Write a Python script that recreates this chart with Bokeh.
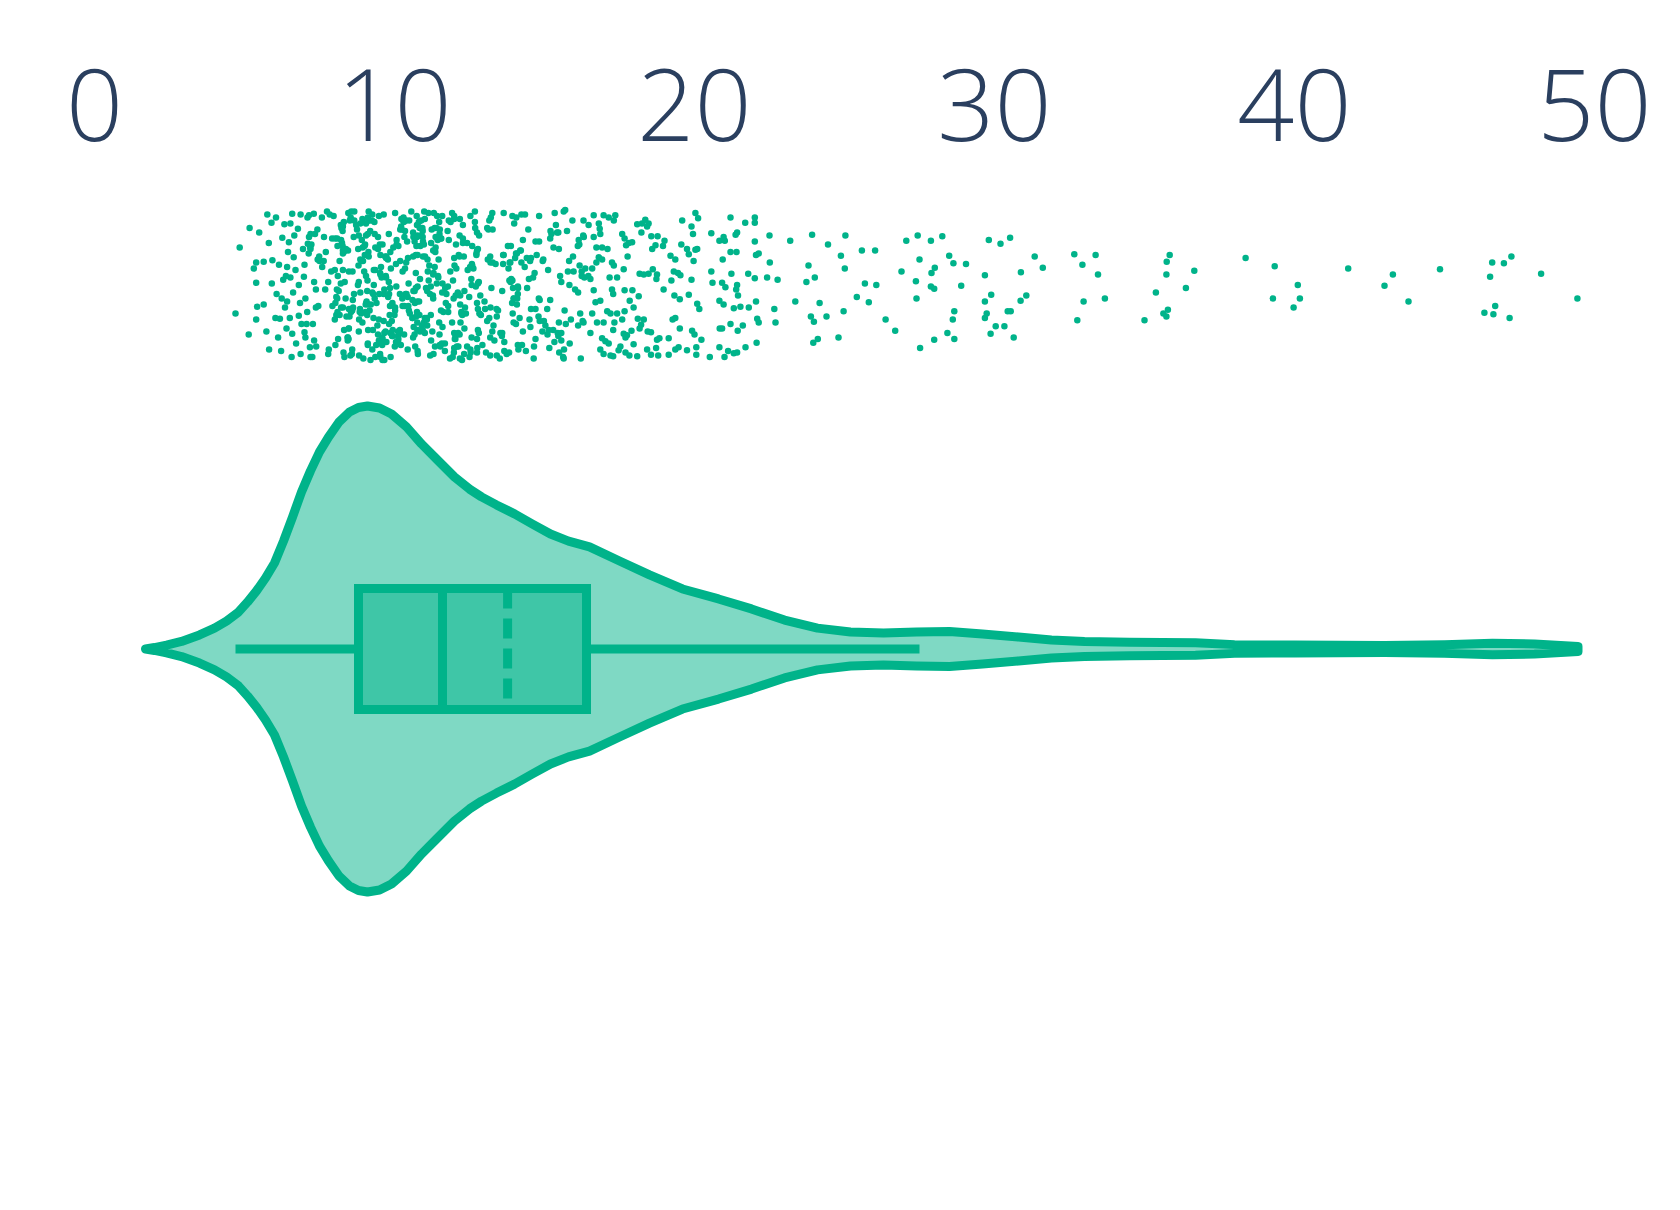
import numpy as np
from bokeh.plotting import figure
from bokeh.models import Range1d, FixedTicker, ColumnDataSource
from bokeh.embed import file_html
from bokeh.resources import INLINE

# ---------------- data ----------------
tick_values = [0, 10, 20, 30, 40, 50]
tick_labels = ["0", "10", "20", "30", "40", "50"]

# violin outline: value and relative density (peak = 1)
violin_value = [1.7, 2.0, 2.4, 2.9, 3.5, 4.0, 4.4, 4.8, 5.1, 5.4, 5.7, 6.0, 6.3, 6.6, 6.9,
                7.2, 7.5, 7.8, 8.15, 8.5, 8.8, 9.1, 9.5, 9.9, 10.4, 10.9, 11.4, 12.0,
                12.5, 12.9, 13.4, 14.0, 14.6, 15.2, 15.8, 16.5, 17.5, 18.5, 19.6, 20.8,
                21.9, 23.0, 24.1, 25.2, 26.3, 27.4, 28.5, 29.6, 30.8, 31.9,
                33.0, 34.5, 36.7, 38.0, 40.0, 43.0, 45.0, 46.6, 48.0, 49.45]
violin_density = [0, .006, .016, .031, .058, .086, .115, .152, .193, .239, .292, .354, .444, .543, .646,
                  .733, .811, .872, .934, .975, .994, 1.0, .992, .967, .914, .844, .782, .708,
                  .658, .626, .593, .556, .514, .473, .444, .420, .362, .305, .247, .206,
                  .165, .119, .086, .070, .066, .070, .072, .062, .049, .037,
                  .031, .028, .026, .018, .016, .014, .018, .024, .021, .010]

# box statistics
box_lower_fence = 4.7
box_q1 = 8.8
box_median = 11.6
box_mean = 13.77
box_q3 = 16.4
box_upper_fence = 27.5

# all points: value and jitter (percent of the strip half-height, + = up)
left_x = [4.84, 4.70, 5.17, 5.49, 5.81, 5.39, 5.64, 5.31, 5.39, 5.93, 5.42, 5.64, 5.39, 5.14, 5.73,
          5.82, 5.91, 5.76, 5.90, 6.07, 6.15, 6.26, 6.33, 6.48, 6.59, 6.53, 6.78, 6.87, 6.29, 6.53,
          6.42, 6.40, 6.51, 6.18, 6.03, 6.59, 6.81, 6.87, 7.00, 6.64, 6.98, 6.81, 7.03, 7.09, 7.00,
          7.03, 7.18, 7.20, 7.15, 7.31, 7.11, 7.20, 6.42, 6.12, 6.22, 6.35, 6.45, 6.62, 6.70, 6.72,
          6.90, 6.95, 6.66, 6.24, 6.05, 6.38, 6.85, 6.57]
left_j = [50, -38, 76, 70, 56, 30, 31, 22, 3, 33, -29, -26, -46, -66, -62,
          -86, 2, 94, 83, -12, 27, 63, 81, 57, 95, 82, 75, 94, 7, 10,
          -22, -58, -44, -45, -44, -65, -41, -92, 27, 37, 11, 0, -18, -36, -63,
          -70, -83, -96, 93, 95, 55, 68, 24, -70, -88, -30, 44, -10, 20, -78,
          -52, 48, 66, -18, 90, 12, -24, -96]

core_x = [
    7.14, 7.15, 7.92, 7.65, 7.35, 7.89, 7.79, 7.32, 7.38, 7.46, 7.26, 7.43, 7.38, 7.32, 7.79, 7.50, 7.28, 7.84,
    7.19, 7.71, 7.69, 7.39, 7.93, 7.75, 7.10, 7.58, 7.20, 7.97, 7.49, 7.44, 7.59, 7.23, 7.07, 7.81, 7.64,
    8.06, 8.28, 8.62, 8.08, 8.99, 8.86, 8.28, 8.03, 8.48, 8.25, 8.34, 8.21, 8.17, 8.06, 8.79, 8.82, 8.14, 8.80,
    8.86, 8.51, 8.32, 8.82, 8.30, 8.66, 8.47, 8.09, 8.38, 8.44, 8.60, 8.95, 8.50, 8.58, 8.22, 8.31, 8.72, 8.53,
    8.59, 8.40, 8.81, 8.28, 8.48, 8.11, 8.17, 8.45, 8.02, 8.84, 8.10, 8.27, 8.01, 8.93, 8.85, 8.21, 8.10, 8.55,
    8.59, 8.64, 8.46, 8.22, 8.94, 8.89, 8.54, 8.93, 8.03, 8.81, 8.96, 8.44, 8.28, 8.81, 8.09, 8.75, 8.66, 8.59,
    8.33, 8.44, 8.61, 8.28, 8.47, 8.56, 8.48, 8.23, 8.37, 8.86, 8.78, 8.31, 8.65, 8.27, 8.12, 8.01, 8.90, 8.91,
    9.45, 9.64, 9.85, 9.66, 9.92, 9.34, 9.60, 9.34, 9.86, 9.10, 9.45, 9.43, 9.26, 9.64, 9.82, 9.13, 9.39, 9.36,
    9.07, 9.26, 9.02, 9.49, 9.14, 9.12, 9.73, 9.72, 9.45, 9.87, 9.00, 9.66, 9.06, 9.31, 9.55, 9.88, 9.17, 9.48,
    9.81, 9.52, 9.09, 9.20, 9.96, 9.28, 9.29, 9.25, 9.40, 9.91, 9.71, 9.53, 9.64, 9.36, 9.78, 9.92, 9.59, 9.03,
    9.60, 9.01, 9.13, 9.30, 9.53, 9.05, 9.48, 9.82, 9.04, 9.66, 9.52, 9.13, 9.84, 9.14, 9.69, 9.51, 9.94, 9.15,
    9.11, 9.60, 9.94, 9.33, 9.05, 9.72, 9.70, 9.36, 9.57, 9.59, 9.59, 9.19, 9.53, 9.09, 9.21, 9.86, 9.11, 9.73,
    9.81, 9.93, 9.26, 9.11, 9.79, 9.31, 9.05, 9.11, 9.85, 9.48,
    10.07, 10.44, 10.62, 10.37, 10.99, 10.62, 10.74, 10.95, 10.67, 10.35, 10.18, 10.85, 10.75, 10.27, 10.24,
    10.89, 10.12, 10.27, 10.93, 10.81, 10.83, 10.01, 10.19, 10.49, 10.12, 10.98, 10.33, 10.67, 10.33, 10.62,
    10.44, 10.06, 10.56, 10.64, 10.30, 10.86, 10.02, 10.13, 10.94, 10.94, 10.63, 10.95, 10.22, 10.47, 10.37,
    10.19, 10.07, 10.02, 10.17, 10.98, 10.60, 10.94, 10.37, 10.02, 10.77, 10.05, 10.39, 10.21, 10.71, 10.76,
    10.29, 10.31, 10.76, 10.75, 10.23, 10.84, 10.67, 10.48, 10.18, 10.46, 10.76, 10.69, 10.40, 10.51, 10.32,
    10.00, 10.05, 10.68, 10.12, 10.71, 10.45, 10.26, 10.35, 10.60, 10.82, 10.77, 10.85, 10.77, 10.13, 10.42,
    10.75, 10.77, 10.89, 10.60, 10.91, 10.73, 10.63, 10.71, 10.78, 10.72,
    11.14, 11.68, 11.44, 11.09, 11.01, 11.22, 11.49, 11.53, 11.43, 11.01, 11.46, 11.54, 11.95, 11.85, 11.37,
    11.10, 11.50, 11.79, 11.22, 11.79, 11.68, 11.92, 11.58, 11.92, 11.35, 11.42, 11.01, 11.99, 11.56, 11.11,
    11.21, 11.29, 11.02, 11.19, 11.60, 11.86, 11.40, 11.34, 11.41, 11.81, 11.59, 11.81, 11.36, 11.29, 11.77,
    11.47, 11.71, 11.30, 11.99, 11.60, 11.51, 11.87, 11.07, 11.21, 11.13, 11.49, 11.99, 11.99, 11.98, 11.37,
    11.29, 11.78, 11.04, 11.99, 11.51, 11.05, 11.97, 11.31, 11.73, 11.28, 11.16, 11.09, 11.63, 11.18, 11.59,
    11.50, 11.24, 11.45, 11.94, 11.55, 11.34, 11.69, 11.08, 11.30, 11.26,
    12.42, 12.52, 12.23, 12.08, 12.25, 12.33, 12.44, 12.68, 12.50, 12.35, 12.26, 12.19, 12.31, 12.18, 12.81,
    12.71, 12.01, 12.00, 12.03, 12.13, 12.78, 12.38, 12.75, 12.28, 12.86, 12.58, 12.75, 12.33, 12.20, 12.83,
    12.81, 12.42, 12.06, 12.17, 12.17, 12.76, 12.69, 12.14, 12.73, 12.03, 12.59, 12.82, 12.53, 12.49, 12.04,
    12.28, 12.75, 12.54, 12.68, 12.73, 12.11, 12.59, 12.56, 12.28, 12.63, 12.88, 12.23, 12.53, 12.78, 12.75,
    12.93, 12.75, 12.19, 12.57, 12.78, 12.18, 12.57, 12.78, 12.05, 12.32, 12.17, 12.12,
    13.26, 13.80, 13.66, 13.13, 13.00, 13.19, 13.27, 13.87, 13.66, 13.11, 13.19, 13.59, 13.09, 13.21, 13.64,
    13.20, 13.19, 13.89, 13.41, 13.59, 13.26, 13.53, 13.58, 13.97, 13.93, 13.23, 13.84, 13.62, 13.64, 13.33,
    13.83, 13.27, 13.95, 13.02, 13.88, 13.41, 13.97, 13.16, 13.93, 13.99, 13.37, 13.51, 13.05, 13.82, 13.09,
    13.74, 13.94, 13.45, 13.92, 13.30, 13.78, 13.16, 13.40, 13.62, 13.86, 13.20, 13.89, 13.98,
    14.62, 14.80, 14.34, 14.82, 14.53, 14.42, 14.11, 14.70, 14.67, 14.98, 14.21, 14.48, 14.08, 14.65, 14.13,
    14.28, 14.23, 14.06, 14.64, 14.70, 14.93, 14.84, 14.46, 14.09, 14.55, 14.05, 14.82, 14.23, 14.17, 14.25,
    14.35, 14.94, 14.08, 14.12, 14.84, 14.81, 14.11, 14.74, 14.50, 14.28, 14.41, 14.02, 14.70, 14.19, 14.38,
    14.52, 14.11, 14.05, 14.55, 14.96,
    15.44, 15.62, 15.29, 15.48, 15.95, 15.49, 15.30, 15.38, 15.19, 15.64, 15.42, 15.88, 15.10, 15.97, 15.56,
    15.65, 15.93, 15.34, 15.46, 15.12, 15.84, 15.75, 15.64, 15.82, 15.33, 15.78, 15.67, 15.83, 15.16, 15.52,
    15.71, 15.20, 15.19, 15.09, 15.14, 15.56, 15.48, 15.56, 15.69, 15.23, 15.46, 15.03,
    16.24, 16.31, 16.02, 16.27, 16.16, 16.33, 16.24, 16.11, 16.17, 16.47, 16.30, 16.36, 16.30, 16.12, 16.46,
    16.21, 16.14, 16.19, 16.12, 16.29]
core_j = [
    42, 64, 62, 64, 68, 18, -92, 4, -30, -28, -96, 74, -6, -74, 4, 32, -52, 94,
    50, 44, -6, -82, -28, 98, 90, 90, 48, 92, 38, 34, 24, 54, -52, -86, 32,
    -40, -30, -30, -6, 18, -10, 42, -24, -58, 56, 4, 2, 32, -16, 48, -46, -8, 26,
    82, 86, -60, -94, -90, 98, -58, 62, 48, -74, 18, 32, -42, -92, -30, 44, 80, -94,
    -32, -42, 4, 20, 18, 12, -40, 46, 62, -36, -36, 72, -46, 88, -32, 80, 52, -36,
    -34, 64, 96, 60, 50, -38, 90, -50, -80, -62, -98, -70, 46, 66, -18, 74, 86, -86,
    -96, -70, -20, 78, -72, 98, -32, 76, -18, 34, 0, 84, -12, 52, -72, 20, 32, 60,
    64, -48, -4, -100, -68, 68, 54, -18, -64, 6, 48, -54, -10, -12, -52, -26, -80, 50,
    -22, -86, 54, -12, 98, -60, 38, 10, -66, -96, 52, -64, -24, 20, 24, 22, -34, -74,
    68, 16, -40, -100, 50, -60, -12, 86, -24, -48, 12, -96, 94, 20, 34, -26, -78, -36,
    -100, 40, 86, -44, 40, 82, -46, -12, -26, -6, -92, 44, -40, 38, 38, 54, -60, 86,
    -80, -72, -68, 84, 66, 36, -62, -96, 10, -70, -80, 72, 14, -8, -26, 44, -78, -76,
    4, -24, 94, 68, -16, 0, 12, 90, -28, 92,
    54, -86, 70, -12, 98, 38, 92, 58, -8, 72, -12, 8, 80, 18, 74,
    86, -68, -28, 76, 84, -40, -82, 74, 86, -76, 54, -28, -66, 64, -70,
    -16, -2, 98, -56, 90, 52, -30, -72, 64, -60, 64, 38, 78, 2, 86,
    32, 60, -34, -64, -50, -44, 72, 86, 96, -2, 28, 30, -80, 16, -60,
    86, 84, -22, 64, 88, 76, 58, -34, -60, -28, -50, -82, -12, -38, -66,
    -40, -76, -24, -62, 40, 36, -18, 22, -20, -22, 40, -62, 66, 52, 58,
    -36, -88, 66, -44, -54, 52, -8, -4, -92, -42,
    6, -78, 60, -54, -44, 56, -50, -82, 62, 88, 10, 62, 6, -98, 50,
    34, -66, -28, -74, -36, -88, 96, -78, -50, -82, 92, -64, -64, 62, 18,
    -40, -18, 38, -94, 2, 18, 76, 76, 2, 86, -10, 60, 44, 46, 72,
    34, -24, 16, 88, -56, 74, 84, -44, -2, 96, 84, -84, 36, -90, 64,
    14, -2, -46, 92, -80, -4, -18, 96, -12, -14, 26, -8, -36, -12, 92,
    68, 74, 12, -96, -34, 24, -4, -46, -92, -62,
    56, 24, -36, -82, -100, -58, 20, 98, -96, -30, -40, -14, 38, 88, -64,
    -2, -72, 26, -72, -82, -32, -38, 46, 62, -14, 28, -90, -8, -50, -38,
    4, -82, 22, 66, 38, -84, 76, 40, 40, -68, 52, 66, 92, -16, -14,
    56, -72, -90, 84, 42, -10, 26, 8, 80, 22, -40, -38, -86, -60, 70,
    -80, -24, -26, 0, 2, -98, -70, 48, 54, -92, -66, -64,
    96, 22, -88, 74, -22, 38, 30, 4, -76, 34, -70, -8, 76, 90, 40,
    -30, -94, 8, -42, -64, -62, -64, -68, -18, 92, -4, 30, 28, 96, -74,
    6, 74, -4, -32, 52, -94, -50, -44, 6, 82, 28, -98, -90, -90, -48,
    -92, -38, -34, -24, -54, 52, 86, -32, 40, 30, 30, 6, -18,
    10, -42, 24, 58, -56, -4, -2, -32, 16, -48, 46, 8, -26, -82, -86,
    60, 94, 90, -98, 58, -62, -48, 74, -18, -32, 42, 92, 30, -44, -80,
    94, 32, 42, -4, -20, -18, -12, 40, -46, -62, 36, 36, -72, 46, -88,
    32, -80, -52, 36, 34,
    -64, -96, -60, -50, 38, -90, 50, 80, 62, 98, 70, -46, -66, 18, -74,
    -86, 86, 96, 70, 20, -78, 72, -98, 32, -76, 18, -34, 0, -84, 12,
    -52, 72, -20, -32, -60, -64, 48, 4, 100, 68, -68, -54,
    18, 64, -6, -48, 54, 10, 12, 52, 26, 80, -50, 22, 86, -54, 12,
    -98, 60, -38, -10, 66]

mid_x = [16.64, 16.97, 17.14, 17.36, 17.31, 16.81, 16.86, 16.64, 16.84, 18.09, 18.25, 18.36, 18.47, 18.42, 18.23,
         19.59, 19.90, 20.03, 20.12, 19.95, 21.20, 21.69, 22.01, 22.01, 17.59, 17.67, 17.81, 17.92, 17.72,
         18.56, 18.77, 19.00, 18.95, 18.70, 18.59, 19.56, 19.75, 19.81, 20.03, 20.09, 20.56, 20.83, 20.97,
         21.01, 21.42, 21.37, 22.01, 22.50, 16.73, 16.92, 17.10, 16.81, 16.73, 16.92, 17.25, 17.31, 17.77,
         17.64, 19.20, 19.36, 19.97, 21.20, 21.40, 20.94, 22.05, 22.14, 22.51, 16.59, 16.53, 17.17, 17.42,
         18.17, 18.31, 18.47, 18.61, 18.75, 18.73, 19.31, 19.45, 19.53, 19.23, 19.90, 20.56, 20.60, 20.92,
         21.03, 21.23, 21.42, 21.39, 21.45, 21.79, 22.01, 22.42, 22.77, 16.64, 17.25, 17.29, 17.67, 17.93,
         17.84, 18.14, 17.97, 16.86, 16.70, 18.97, 19.33, 19.51, 19.81, 20.83, 20.97, 21.31, 21.53, 21.81,
         22.05, 20.09, 20.16, 22.66, 22.70, 16.59, 17.09, 17.20, 17.42, 17.67, 17.59, 16.75, 16.97, 17.33,
         18.11, 18.31, 18.22, 18.17, 17.90, 17.64, 17.75, 17.70, 17.29, 18.44, 18.55, 18.75, 18.83, 19.14,
         19.27, 19.36, 19.51, 19.92, 20.00, 20.23, 20.84, 20.92, 21.20, 21.61, 21.44, 22.09, 22.14, 22.07,
         16.53, 16.92, 17.03, 17.14, 17.53, 17.97, 17.70, 17.47, 16.86, 16.97, 17.20, 17.29, 17.83, 18.09,
         18.55, 18.79, 18.72, 18.42, 19.14, 19.36, 19.47, 19.75, 20.06, 20.06, 20.51, 20.83, 21.00, 21.12,
         21.31, 21.42, 21.70]
mid_j = [93, 93, 90, 93, 86, 82, 68, 64, 75, 81, 82, 87, 82, 78, 70,
         86, 78, 96, 89, 68, 90, 83, 90, 83, 68, 62, 56, 57, 53,
         65, 65, 59, 52, 53, 48, 54, 48, 41, 47, 48, 69, 59, 64,
         59, 70, 67, 58, 66, 50, 50, 48, 37, 30, 34, 30, 26, 38,
         21, 39, 34, 32, 44, 44, 34, 40, 42, 30, 22, 8, 10, 10,
         15, 14, 15, 21, 14, 8, 18, 16, 13, 6, 7, 18, 3, 3,
         -3, 15, 0, -6, -14, 15, 9, 10, 7, -7, -6, -12, -7, -7,
         -21, -15, -30, -21, -23, -6, -14, -19, -13, -21, -26, -31, -29, -30,
         -22, -25, -32, -32, -50, -38, -35, -38, -38, -35, -46, -50, -50, -50,
         -45, -46, -53, -58, -61, -65, -67, -70, -60, -62, -63, -73, -71, -71,
         -46, -44, -58, -61, -66, -73, -58, -58, -52, -54, -61, -45, -50, -77,
         -64, -71, -75, -78, -82, -79, -90, -87, -86, -92, -94, -95, -94, -95,
         -93, -94, -84, -86, -93, -86, -83, -87, -83, -93, -96, -83, -96, -88,
         -91, -90, -83]

tail_x = [23.19, 23.92, 24.45, 25.03, 24.88, 23.80, 25.01, 25.58, 26.02, 23.73, 24.01, 23.36, 24.17, 23.88,
          23.98, 24.40, 24.97, 25.41, 25.81, 25.68, 26.06, 23.96, 24.11, 24.80, 26.37, 26.69, 27.52, 27.06,
          27.44, 27.88, 28.26, 27.50, 26.90, 28.01, 27.90, 28.49, 28.63, 29.05, 27.38, 27.88, 27.99, 28.89,
          27.40, 28.66, 28.61, 28.43, 28.66, 27.99, 29.81, 30.20, 30.52, 31.34, 31.61, 29.68, 30.88, 29.89,
          29.68, 31.06, 30.87, 29.74, 29.68, 30.44, 30.54, 30.04, 30.33, 29.87, 30.64, 32.66, 33.37, 32.93,
          33.45, 32.97, 33.68, 32.76, 35.00, 35.84, 35.74, 35.73, 36.66, 36.38, 35.38, 35.78, 35.63, 35.73,
          38.37, 39.34, 40.11, 39.28, 40.18, 39.97, 41.79, 43.28, 43.00, 43.80, 44.85, 46.59, 46.98, 47.23,
          46.52, 48.22, 49.43, 46.69, 46.33, 46.63, 47.17]
tail_j = [59, 67, 54, 66, 39, 26, 22, 46, 46, 4, 10, -22, -24, -42,
          -49, -42, -35, -16, -23, 2, 0, -77, -72, -70, -46, -61, -84, 59,
          66, 59, 65, 34, 18, 23, 16, 39, 29, 28, 5, -2, -5, -1,
          -18, -35, -46, -64, -72, -73, 60, 55, 63, 38, 23, 13, 17, -13,
          -22, -14, -21, -38, -44, -35, -35, -55, -55, -65, -70, 41, 40, 27,
          14, -22, -18, -47, -47, 40, 31, 14, 19, -4, -10, -33, -38, -42,
          36, 25, 0, -18, -18, -30, 22, 14, -1, -22, 21, 30, 29, 38,
          11, 15, -18, -28, -37, -39, -44]

# ---------------- style / layout ----------------
COLOR = "#00b38a"
LW = 9
W, H = 1680, 1210
TOP = 156                 # frame top (px from figure top)
UNIT_PX = 30              # px per data unit along x
ZERO_PX = 94              # px of x=0 from the frame's left edge
CENTER_PX = 648.5         # violin centre, px from figure top
VIOLIN_HALF = 243         # half-width of the violin at peak density (px)
BOX_HALF = 60.5
STRIP_Y = 364             # points strip centre above the violin centre (px)
STRIP_HALF = 75

frame_h = H - TOP
c_top = CENTER_PX - TOP
p = figure(width=W, height=H, output_backend="svg", toolbar_location=None,
           x_range=Range1d(-ZERO_PX / UNIT_PX, (W - ZERO_PX) / UNIT_PX),
           y_range=Range1d(-(frame_h - c_top), c_top),
           x_axis_location="above", y_axis_location=None,
           min_border_left=0, min_border_right=0, min_border_bottom=0,
           min_border_top=TOP)
p.grid.visible = False
p.outline_line_color = None
p.background_fill_color = "white"
p.border_fill_color = "white"

ax = p.xaxis[0]
ax.ticker = FixedTicker(ticks=tick_values)
ax.major_label_overrides = {v: l for v, l in zip(tick_values, tick_labels)}
ax.axis_line_color = None
ax.major_tick_line_color = None
ax.minor_tick_line_color = None
ax.major_tick_out = 0
ax.major_tick_in = 0
ax.major_label_standoff = 16
ax.major_label_text_font = "Open Sans"
ax.major_label_text_font_size = "100px"
ax.major_label_text_color = "#2a3f5f"

# violin
vv = np.array(violin_value)
vd = np.array(violin_density) * VIOLIN_HALF
p.patch(np.concatenate([vv, vv[::-1]]), np.concatenate([vd, -vd[::-1]]),
        fill_color=COLOR, fill_alpha=0.5, line_color=COLOR, line_width=LW, line_join="round")

# whiskers
p.segment(x0=[box_lower_fence, box_q3], x1=[box_q1, box_upper_fence], y0=[0, 0], y1=[0, 0],
          line_color=COLOR, line_width=LW)
# box
p.quad(left=[box_q1], right=[box_q3], bottom=[-BOX_HALF], top=[BOX_HALF],
       fill_color=COLOR, fill_alpha=0.5, line_color=COLOR, line_width=LW, line_join="miter")
# median
p.segment(x0=[box_median], x1=[box_median], y0=[BOX_HALF], y1=[-BOX_HALF],
          line_color=COLOR, line_width=LW)
# mean
p.segment(x0=[box_mean], x1=[box_mean], y0=[BOX_HALF], y1=[-BOX_HALF],
          line_color=COLOR, line_width=LW, line_dash="20 10")

# points
px = np.array(left_x + core_x + mid_x + tail_x)
pj = np.array(left_j + core_j + mid_j + tail_j, dtype=float)
src = ColumnDataSource(dict(x=px, y=STRIP_Y + pj / 100.0 * STRIP_HALF))
p.scatter("x", "y", source=src, size=6.5, fill_color=COLOR, line_color=None)

open("out.html", "w").write(file_html(p, INLINE))
